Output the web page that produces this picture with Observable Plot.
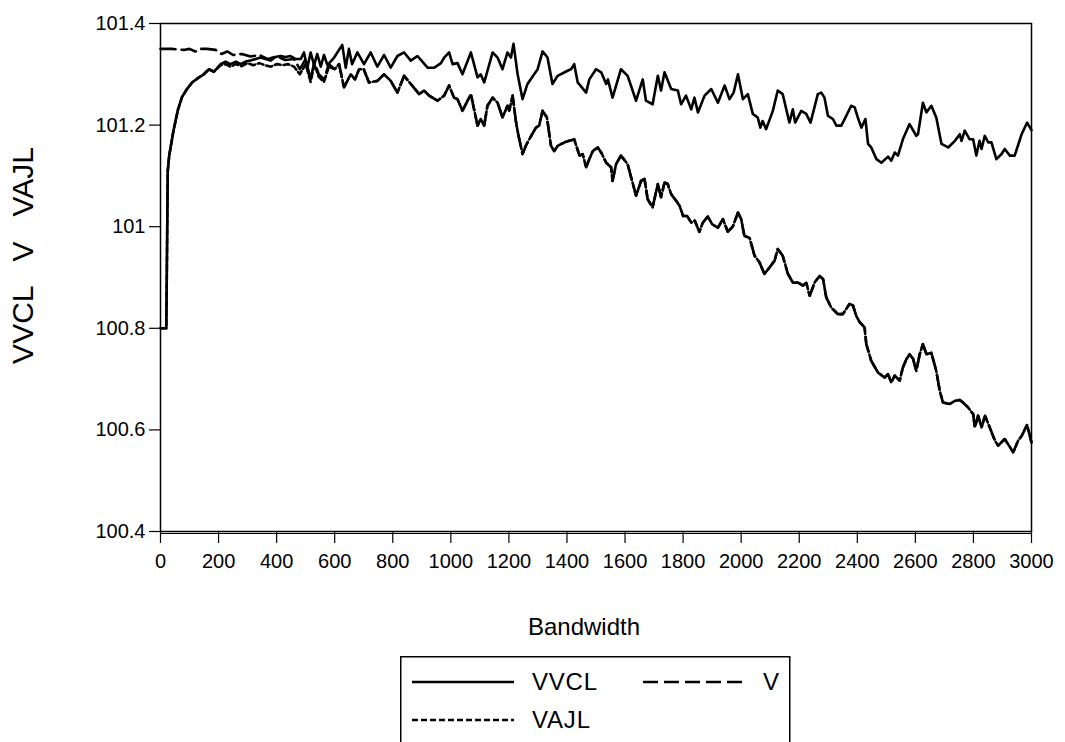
<!DOCTYPE html>
<html><head><meta charset="utf-8">
<script src="https://cdn.jsdelivr.net/npm/d3@7"></script>
<script src="https://cdn.jsdelivr.net/npm/@observablehq/plot@0.6"></script>
<style>
body{margin:0;background:#fff;font-family:"Liberation Sans",Arial,sans-serif;}
#wrap{position:relative;width:1065px;height:742px;overflow:hidden;background:#fff;}
#legend{position:absolute;left:400px;top:656px;}
</style></head><body><div id="wrap"><div id="chart"></div><div id="legend"></div></div>
<script>
// ---- data ----
const seriesNames = ["VVCL", "V", "VAJL"];
const xTicks = [0,200,400,600,800,1000,1200,1400,1600,1800,2000,2200,2400,2600,2800,3000];
const yTicks = [100.4,100.6,100.8,101,101.2,101.4];
const yTickLabels = ["100.4","100.6","100.8","101","101.2","101.4"];
const xLabel = "Bandwidth";
const yLabel = "VVCL   V   VAJL";

const vvclX = [0,10,20,25,30,45,60,74,90,109,130,149,167,184,207,224,241,260,276,293,310,328,345,362,379,396,414,430,448,466,483,494,506,517,529,540,552,563,575,598,626,638,649,660,678,701,724,747,770,793,816,839,862,885,902,920,943,966,977,994,1006,1023,1040,1069,1092,1103,1115,1144,1161,1178,1195,1207,1216,1230,1247,1264,1287,1299,1316,1333,1350,1368,1402,1414,1425,1437,1466,1477,1500,1518,1535,1541,1557,1586,1609,1638,1661,1672,1695,1713,1724,1736,1759,1782,1793,1810,1828,1839,1851,1874,1897,1920,1943,1960,1974,1989,2006,2023,2040,2057,2066,2074,2086,2109,2126,2143,2166,2178,2186,2207,2224,2239,2264,2276,2287,2299,2316,2328,2345,2362,2379,2391,2400,2414,2428,2437,2448,2466,2483,2506,2517,2529,2540,2557,2580,2603,2609,2626,2638,2655,2672,2690,2713,2736,2753,2759,2770,2787,2799,2810,2821,2828,2839,2851,2862,2879,2897,2908,2925,2942,2966,2985,3000];
const vvclY = [100.80,100.80,100.80,101.11,101.14,101.19,101.23,101.255,101.27,101.284,101.293,101.30,101.31,101.305,101.32,101.325,101.32,101.325,101.32,101.325,101.327,101.33,101.333,101.33,101.327,101.334,101.336,101.334,101.336,101.33,101.33,101.343,101.313,101.343,101.318,101.34,101.315,101.338,101.318,101.333,101.358,101.313,101.35,101.32,101.343,101.32,101.343,101.315,101.338,101.313,101.336,101.343,101.327,101.336,101.325,101.313,101.313,101.322,101.333,101.343,101.32,101.322,101.30,101.343,101.294,101.30,101.284,101.343,101.333,101.31,101.343,101.333,101.36,101.30,101.251,101.281,101.30,101.31,101.345,101.333,101.281,101.297,101.307,101.31,101.32,101.284,101.264,101.29,101.31,101.304,101.281,101.29,101.254,101.31,101.297,101.248,101.29,101.248,101.241,101.297,101.268,101.304,101.271,101.268,101.241,101.258,101.231,101.254,101.225,101.258,101.271,101.244,101.278,101.251,101.264,101.30,101.251,101.261,101.222,101.215,101.195,101.208,101.192,101.228,101.268,101.261,101.205,101.231,101.205,101.228,101.222,101.205,101.261,101.264,101.254,101.218,101.212,101.199,101.199,101.218,101.238,101.235,101.218,101.195,101.212,101.163,101.156,101.133,101.126,101.138,101.130,101.146,101.140,101.172,101.202,101.179,101.182,101.244,101.225,101.238,101.215,101.163,101.156,101.169,101.182,101.169,101.189,101.172,101.172,101.140,101.169,101.153,101.179,101.166,101.166,101.133,101.143,101.153,101.140,101.140,101.182,101.205,101.19];

const vX = [0,40,80,100,120,140,160,190,210,230,250,280,310,340,370,400,430,460,480,500,517,530,545,563,580,600,615,632,655,670,684,700,718,747,770,793,816,839,862,891,908,925,954,977,994,1011,1023,1040,1069,1092,1103,1115,1126,1144,1161,1178,1195,1201,1213,1224,1232,1247,1258,1270,1293,1304,1316,1331,1345,1356,1368,1391,1408,1425,1443,1454,1466,1477,1489,1506,1518,1535,1552,1557,1569,1586,1609,1621,1638,1655,1667,1678,1695,1705,1713,1724,1736,1747,1759,1776,1788,1800,1814,1828,1840,1856,1868,1885,1900,1920,1937,1954,1971,1989,2000,2011,2029,2046,2063,2080,2098,2115,2126,2143,2161,2178,2196,2213,2224,2236,2253,2270,2282,2293,2310,2333,2350,2362,2373,2385,2396,2408,2425,2431,2448,2471,2494,2506,2517,2529,2546,2557,2569,2580,2592,2603,2615,2626,2638,2655,2672,2684,2695,2718,2736,2753,2764,2782,2799,2805,2816,2828,2840,2856,2874,2885,2908,2937,2954,2966,2985,3000];
const vY = [101.35,101.35,101.348,101.35,101.345,101.35,101.35,101.348,101.34,101.345,101.338,101.34,101.335,101.338,101.33,101.335,101.328,101.33,101.31,101.33,101.29,101.325,101.30,101.29,101.32,101.31,101.32,101.274,101.30,101.29,101.31,101.31,101.284,101.287,101.30,101.287,101.264,101.297,101.281,101.261,101.268,101.258,101.248,101.258,101.278,101.254,101.251,101.228,101.261,101.199,101.212,101.199,101.238,101.254,101.244,101.215,101.238,101.228,101.258,101.208,101.182,101.143,101.159,101.172,101.195,101.199,101.228,101.215,101.159,101.149,101.159,101.166,101.169,101.172,101.14,101.143,101.117,101.133,101.149,101.156,101.146,101.126,101.117,101.09,101.123,101.14,101.123,101.097,101.061,101.09,101.094,101.054,101.038,101.064,101.084,101.058,101.087,101.084,101.064,101.051,101.041,101.021,101.021,101.008,101.012,100.99,101.008,101.02,101.005,100.998,101.015,100.99,101.0,101.028,101.015,100.982,100.978,100.943,100.93,100.907,100.92,100.933,100.956,100.943,100.907,100.89,100.89,100.884,100.89,100.864,100.89,100.903,100.897,100.861,100.841,100.828,100.828,100.838,100.848,100.845,100.825,100.812,100.802,100.769,100.736,100.713,100.703,100.71,100.693,100.707,100.697,100.723,100.739,100.749,100.74,100.716,100.749,100.769,100.749,100.752,100.716,100.677,100.654,100.651,100.657,100.659,100.654,100.644,100.631,100.605,100.628,100.605,100.628,100.605,100.579,100.569,100.582,100.556,100.579,100.588,100.61,100.575];

// VAJL: hidden under VVCL at small bandwidths, just below it up to ~600, then coincides with V
const vajlEarlyX = [0,10,20,25,30,45,60,74,90,109,130,149,167,184,207,224,241,260,280,300,320,340,360,380,400,420,440,460,480,500,517,530,545,563,580,600];
const vajlEarlyY = [100.80,100.80,100.80,101.11,101.14,101.19,101.23,101.255,101.27,101.284,101.293,101.30,101.31,101.305,101.318,101.32,101.315,101.32,101.316,101.322,101.318,101.322,101.318,101.315,101.32,101.318,101.32,101.315,101.30,101.32,101.285,101.32,101.295,101.285,101.315,101.31];

// ---- build tables ----
const rows = [];
vvclX.forEach((x, i) => rows.push({series: "VVCL", x, y: vvclY[i]}));
vX.forEach((x, i) => rows.push({series: "V", x, y: vY[i]}));
vajlEarlyX.forEach((x, i) => rows.push({series: "VAJL", x, y: vajlEarlyY[i]}));
vX.forEach((x, i) => { if (x > 600) rows.push({series: "VAJL", x, y: vY[i]}); });

const dash = {VVCL: null, V: "15,6", VAJL: "6,3"};
const byS = s => rows.filter(d => d.series === s);
const LW = 2.6;

const chart = Plot.plot({
  width: 1065, height: 640,
  marginLeft: 160, marginRight: 34, marginTop: 23, marginBottom: 109,
  style: {fontSize: "20px", fontFamily: "'Liberation Sans', Arial, sans-serif", color: "black", background: "white"},
  x: {domain: [0, 3000]},
  y: {domain: [100.4, 101.4]},
  marks: [
    Plot.frame({stroke: "black", strokeWidth: 1.5}),
    Plot.ruleY([100.4], {dy: 2, stroke: "black", strokeWidth: 1.2}),
    Plot.axisX({ticks: xTicks, tickSize: 12, tickPadding: 10, label: null, tickFormat: d => String(d), stroke: "black", strokeWidth: 1.2, fill: "black"}),
    Plot.axisY({ticks: yTicks, tickSize: 11, tickPadding: 4, label: null, tickFormat: d => yTickLabels[yTicks.indexOf(d)], stroke: "black", strokeWidth: 1.2, fill: "black"}),
    Plot.line(byS("VAJL"), {x: "x", y: "y", stroke: "black", strokeWidth: LW, strokeDasharray: dash.VAJL}),
    Plot.line(byS("V"), {x: "x", y: "y", stroke: "black", strokeWidth: LW, strokeDasharray: dash.V}),
    Plot.line(byS("VVCL"), {x: "x", y: "y", stroke: "black", strokeWidth: LW}),
    Plot.text([yLabel], {text: d => d, frameAnchor: "left", textAnchor: "middle", rotate: -90, dx: -137, dy: -22, fontSize: 30, fill: "black", style: {letterSpacing: "2px", whiteSpace: "pre"}}),
    Plot.text([xLabel], {text: d => d, frameAnchor: "bottom", textAnchor: "middle", dx: -12, dy: 103, fontSize: 24, fill: "black"})
  ]
});
document.getElementById("chart").appendChild(chart);
chart.querySelectorAll("text").forEach(t => t.setAttribute("xml:space", "preserve"));

// ---- legend ----
const lg = d3.select("#legend").append("svg").attr("width", 392).attr("height", 90)
  .style("font-family", "'Liberation Sans', Arial, sans-serif");
lg.append("rect").attr("x", 0.75).attr("y", 0.75).attr("width", 389).attr("height", 140)
  .attr("fill", "white").attr("stroke", "black").attr("stroke-width", 1.5);
const items = [
  {name: seriesNames[0], lx: 12, ty: 26},
  {name: seriesNames[1], lx: 243, ty: 26},
  {name: seriesNames[2], lx: 12, ty: 64}
];
items.forEach(it => {
  lg.append("line").attr("x1", it.lx).attr("x2", it.lx + 102).attr("y1", it.ty).attr("y2", it.ty)
    .attr("stroke", "black").attr("stroke-width", LW)
    .attr("stroke-dasharray", dash[it.name]);
  lg.append("text").attr("x", it.lx + 120).attr("y", it.ty + 8).attr("font-size", 24)
    .attr("letter-spacing", "0.8px").attr("fill", "black").text(it.name);
});
</script>
</body></html>
